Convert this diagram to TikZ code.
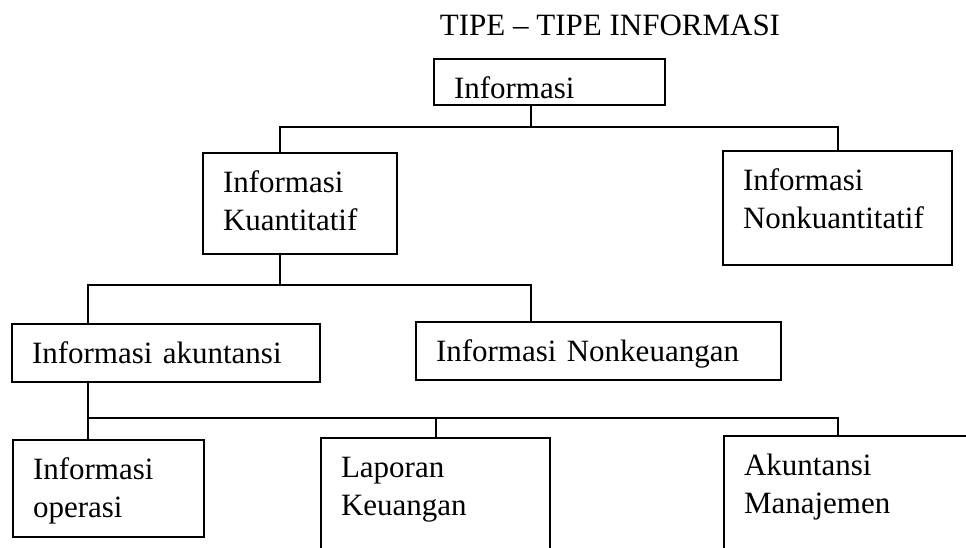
\documentclass[tikz,border=0pt]{standalone}
\usepackage{fontspec}
\setmainfont{Liberation Serif}
\newcommand{\tipefont}{\fontsize{31}{37.5}\selectfont}

\begin{document}
\begin{tikzpicture}[x=1pt, y=-1pt, line width=2pt, blk/.style={draw, inner xsep=20pt, inner ysep=0pt, outer sep=0pt, anchor=north west, align=left, text height=39.5pt, font=\tipefont}]
\useasboundingbox (0,0) rectangle (966,547);
\clip (0,0) rectangle (966,547);
\node[font=\tipefont, anchor=base] (judul) at (610,35) {TIPE -- TIPE INFORMASI};
% boxes
\node[blk, text width=191pt, text depth=6.5pt] (info) at (434,59) {Informasi};
\node[blk, text width=154pt, text depth=61.5pt] (kuan) at (203,153) {Informasi\\Kuantitatif};
\node[blk, text width=189pt, text depth=74.5pt] (nonkuan) at (723,151) {Informasi\\Nonkuantitatif};
\node[blk, text width=268pt, text depth=18.5pt] (akun) at (12,324) {Informasi akuntansi};
\node[blk, text width=325pt, text depth=18.5pt] (nonkeu) at (416,322) {Informasi Nonkeuangan};
\node[blk, text width=151pt, text depth=57.5pt] (oper) at (13,440) {Informasi\\operasi};
\node[blk, text width=189pt, text depth=160pt] (lap) at (321,438) {Laporan\\Keuangan};
\node[blk, text width=260pt, text depth=160pt] (man) at (724,436) {Akuntansi\\Manajemen};
% junctions
\coordinate (a1) at (280,127); \coordinate (a2) at (531,127); \coordinate (a3) at (838,127);
\coordinate (b1) at (88,285); \coordinate (b2) at (280,285); \coordinate (b3) at (531,285);
\coordinate (c1) at (88,418); \coordinate (c2) at (436,418); \coordinate (c3) at (838,418);
% connectors
\draw (info.south -| a2) -- (a2);
\draw (kuan.north -| a1) -- (a1) -- (a3) -- (nonkuan.north -| a3);
\draw (kuan.south -| b2) -- (b2);
\draw (akun.north -| b1) -- (b1) -- (b3) -- (nonkeu.north -| b3);
\draw (akun.south -| c1) -- (c1);
\draw (oper.north -| c1) -- (c1) -- (c3) -- (man.north -| c3);
\draw (c2) -- (lap.north -| c2);
\end{tikzpicture}
\end{document}
